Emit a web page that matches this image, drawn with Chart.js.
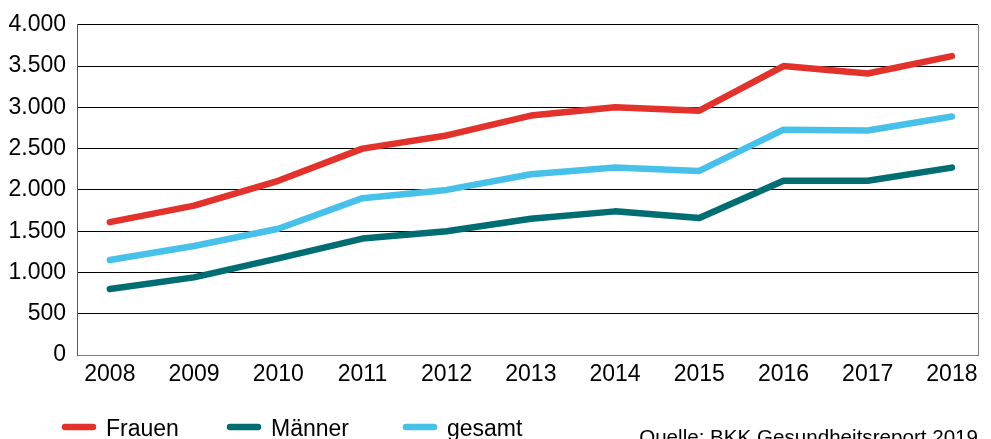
<!DOCTYPE html>
<html>
<head>
<meta charset="utf-8">
<script src="https://cdn.jsdelivr.net/npm/chart.js@4"></script>
<style>
  html, body { margin: 0; padding: 0; background: #fff; }
  #wrap { width: 991px; height: 439px; position: relative; }
</style>
</head>
<body>
<div id="wrap"><canvas id="myChart" width="991" height="439"></canvas></div>
<script>
var years = [2008, 2009, 2010, 2011, 2012, 2013, 2014, 2015, 2016, 2017, 2018];
var frauen = [1610, 1810, 2110, 2500, 2660, 2900, 3000, 2960, 3500, 3410, 3620];
var maenner = [800, 940, 1170, 1410, 1500, 1650, 1740, 1660, 2110, 2110, 2270];
var gesamt = [1150, 1320, 1530, 1900, 2000, 2190, 2270, 2230, 2730, 2720, 2890];
var seriesNames = ['Frauen', 'Männer', 'gesamt'];
var sourceText = 'Quelle: BKK Gesundheitsreport 2019';

var FONT = "'Liberation Sans', Arial, sans-serif";

function toPoints(vals) {
  return years.map(function(y, i) { return { x: y, y: vals[i] }; });
}

function fmtDE(v) {
  return String(v).replace(/\B(?=(\d{3})+(?!\d))/g, '.');
}

// right border of the plot box, legend items and source line
var extrasPlugin = {
  id: 'extras',
  afterDraw: function(chart) {
    var ctx = chart.ctx;
    var area = chart.chartArea;
    ctx.save();
    ctx.strokeStyle = '#7f7f7f';
    ctx.lineWidth = 1;
    ctx.beginPath();
    ctx.moveTo(area.right + 0.5, area.top);
    ctx.lineTo(area.right + 0.5, area.bottom);
    ctx.stroke();

    var legendX = [62, 227, 403];
    ctx.font = '23px ' + FONT;
    ctx.textBaseline = 'alphabetic';
    chart.data.datasets.forEach(function(ds, i) {
      ctx.strokeStyle = ds.borderColor;
      ctx.lineWidth = 6.5;
      ctx.lineCap = 'round';
      ctx.beginPath();
      ctx.moveTo(legendX[i] + 3, 427);
      ctx.lineTo(legendX[i] + 31, 427);
      ctx.stroke();
      ctx.fillStyle = '#000';
      ctx.fillText(ds.label, legendX[i] + 44, 436);
    });

    ctx.font = '20.6px ' + FONT;
    ctx.textAlign = 'right';
    ctx.fillText(sourceText, 978, 444);
    ctx.restore();
  }
};

var lineStyle = {
  borderWidth: 6.5,
  pointRadius: 0,
  pointHoverRadius: 0,
  tension: 0,
  fill: false,
  borderCapStyle: 'round',
  borderJoinStyle: 'round'
};

var myChart = new Chart(document.getElementById('myChart'), {
  type: 'line',
  data: {
    datasets: [
      Object.assign({ label: seriesNames[0], data: toPoints(frauen), borderColor: '#e3312b' }, lineStyle),
      Object.assign({ label: seriesNames[1], data: toPoints(maenner), borderColor: '#006d73' }, lineStyle),
      Object.assign({ label: seriesNames[2], data: toPoints(gesamt), borderColor: '#47c0ea' }, lineStyle)
    ]
  },
  options: {
    responsive: false,
    animation: false,
    layout: { padding: { top: 22, right: 13, left: 0, bottom: 0 } },
    plugins: {
      legend: { display: false },
      tooltip: { enabled: false }
    },
    scales: {
      x: {
        type: 'linear',
        min: 2007.61,
        max: 2018.31,
        afterBuildTicks: function(scale) {
          scale.ticks = years.map(function(y) { return { value: y }; });
        },
        afterFit: function(scale) { scale.height = 84; },
        grid: { display: false, drawTicks: false },
        border: { display: true, color: '#7f7f7f', width: 1 },
        ticks: {
          autoSkip: false,
          maxRotation: 0,
          padding: 6,
          color: '#000',
          font: { family: FONT, size: 23 },
          callback: function(v) { return String(v); }
        }
      },
      y: {
        min: 0,
        max: 4000,
        afterFit: function(scale) { scale.width = 77; },
        grid: { color: '#000', lineWidth: 1, drawTicks: false },
        border: { display: true, color: '#5a5a5a', width: 1 },
        ticks: {
          stepSize: 500,
          padding: 11,
          color: '#000',
          font: { family: FONT, size: 23 },
          callback: function(v) { return fmtDE(v); }
        }
      }
    }
  },
  plugins: [extrasPlugin]
});
</script>
</body>
</html>
